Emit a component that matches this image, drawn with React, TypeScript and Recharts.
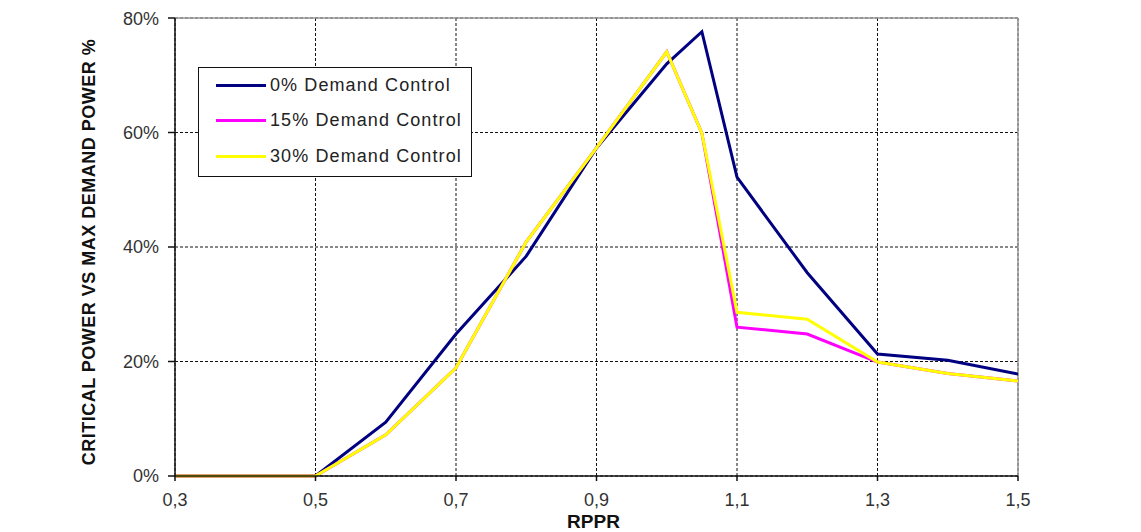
import React from "react";
import {
  LineChart,
  Line,
  XAxis,
  YAxis,
  CartesianGrid,
  ReferenceLine,
  Legend,
  Label,
} from "recharts";

const rppr = [0.3, 0.5, 0.6, 0.7, 0.8, 0.9, 1.0, 1.05, 1.1, 1.2, 1.3, 1.4, 1.5];
const demand0 = [0, 0, 9.4, 24.8, 38.4, 57.3, 72.0, 77.6, 52.2, 35.5, 21.3, 20.2, 17.8];
const demand15 = [0, 0, 7.2, 18.9, 40.9, 57.3, 74.1, 59.9, 26.0, 24.8, 19.9, 17.9, 16.6];
const demand30 = [0, 0, 7.2, 18.9, 40.9, 57.3, 74.1, 59.9, 28.6, 27.4, 19.9, 17.9, 16.6];

const xTicks = [0.3, 0.5, 0.7, 0.9, 1.1, 1.3, 1.5];
const yTicks = [0, 20, 40, 60, 80];

const seriesNames = ["0% Demand Control", "15% Demand Control", "30% Demand Control"];
const seriesColors = ["#000080", "#FF00FF", "#FFFF00"];

const data = rppr.map((x, i) => ({
  x,
  d0: demand0[i],
  d15: demand15[i],
  d30: demand30[i],
}));

const FONT = "'Liberation Sans', Arial, sans-serif";

const LegendBox = () => (
  <div
    style={{
      width: 272,
      height: 108,
      border: "1.5px solid #111",
      background: "#fff",
      fontFamily: FONT,
      fontSize: 18,
      letterSpacing: 1.1,
      color: "#222",
      position: "relative",
    }}
  >
    {seriesNames.map((name, i) => (
      <div
        key={name}
        style={{
          position: "absolute",
          left: 17,
          top: 7 + i * 35.5,
          height: 20,
          display: "flex",
          alignItems: "center",
          whiteSpace: "nowrap",
        }}
      >
        <div style={{ width: 50, height: 3, background: seriesColors[i], marginRight: 4 }} />
        <span>{name}</span>
      </div>
    ))}
  </div>
);

const YLabel = (props: any) => {
  const cx = 81;
  const cy = 244;
  return (
    <text
      x={cx}
      y={cy}
      transform={`rotate(-90, ${cx}, ${cy})`}
      textAnchor="middle"
      dominantBaseline="central"
      fontFamily={FONT}
      fontWeight="bold"
      fontSize={18}
      letterSpacing={0.5}
      fill="#111"
    >
      CRITICAL POWER VS MAX DEMAND POWER %
    </text>
  );
};

const XLabel = (props: any) => {
  const vb = props.viewBox || {};
  const cx = (vb.x ?? 167) + (vb.width ?? 843) / 2 - 3;
  return (
    <text
      x={cx}
      y={520}
      textAnchor="middle"
      fontFamily={FONT}
      fontWeight="bold"
      fontSize={19}
      fill="#111"
    >
      RPPR
    </text>
  );
};

export default function App() {
  return (
    <LineChart
      width={1125}
      height={524}
      data={data}
      margin={{ top: 10, right: 115, bottom: 16, left: 0 }}
      style={{ background: "#fff" }}
    >
      <CartesianGrid stroke="#111" strokeDasharray="3 2" strokeWidth={1} />
      <XAxis
        dataKey="x"
        type="number"
        domain={[0.3, 1.5]}
        ticks={xTicks}
        tickFormatter={(v: number) => v.toFixed(1).replace(".", ",")}
        height={40}
        stroke="#111"
        strokeWidth={1.5}
        tickSize={5}
        tickMargin={12}
        tick={{ fontFamily: FONT, fontSize: 18, fill: "#333" }}
        allowDataOverflow
      >
        <Label content={<XLabel />} />
      </XAxis>
      <YAxis
        type="number"
        domain={[0, 80]}
        ticks={yTicks}
        tickFormatter={(v: number) => `${v}%`}
        width={167}
        stroke="#111"
        strokeWidth={1.5}
        tickSize={7}
        tickMargin={9}
        tick={{ fontFamily: FONT, fontSize: 18, fill: "#333" }}
      >
        <Label content={<YLabel />} />
      </YAxis>
      <ReferenceLine y={80} stroke="#999" strokeWidth={1.5} />
      <ReferenceLine x={1.5} stroke="#999" strokeWidth={1.5} />
      <Legend
        layout="vertical"
        verticalAlign="middle"
        align="center"
        wrapperStyle={{ position: "absolute", left: 190, top: 59, width: 275, height: 111 }}
        content={() => <LegendBox />}
      />
      <Line
        type="linear"
        dataKey="d0"
        name={seriesNames[0]}
        stroke={seriesColors[0]}
        strokeWidth={3}
        dot={false}
        isAnimationActive={false}
      />
      <Line
        type="linear"
        dataKey="d15"
        name={seriesNames[1]}
        stroke={seriesColors[1]}
        strokeWidth={3}
        dot={false}
        isAnimationActive={false}
      />
      <Line
        type="linear"
        dataKey="d30"
        name={seriesNames[2]}
        stroke={seriesColors[2]}
        strokeWidth={3}
        dot={false}
        isAnimationActive={false}
      />
    </LineChart>
  );
}
